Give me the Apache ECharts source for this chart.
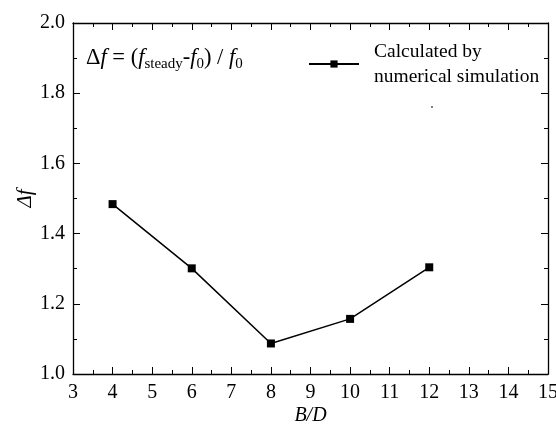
<!DOCTYPE html>
<html><head><meta charset="utf-8">
<script src="https://cdn.jsdelivr.net/npm/echarts@6/dist/echarts.min.js"></script>
<style>html,body{margin:0;padding:0;background:#fff}#c{width:556px;height:429px}</style>
</head><body><div id="c"></div>
<script>
var xValues = [4, 6, 8, 10, 12];
var yValues = [1.484, 1.301, 1.087, 1.157, 1.304];
var seriesName = 'Calculated by\nnumerical simulation';
var FONT = '"Liberation Serif", "Times New Roman", serif';

var chart = echarts.init(document.getElementById('c'));
var axisLine = {show: true, lineStyle: {color: '#000', width: 1.3}};
var tick = {show: true, inside: true, length: 7, lineStyle: {color: '#000', width: 1}};
var minor = {show: true, splitNumber: 2, length: 4, lineStyle: {color: '#000', width: 1}};
var label = {color: '#000', fontFamily: FONT, fontSize: 20};
chart.setOption({
  animation: false,
  backgroundColor: '#fff',
  grid: {left: 73, right: 8, top: 23, bottom: 55, outerBoundsMode: 'none', containLabel: false},
  xAxis: [{
    type: 'value', min: 3, max: 15, interval: 1, position: 'bottom',
    axisLine: axisLine, axisTick: tick, minorTick: minor, splitLine: {show: false},
    axisLabel: Object.assign({margin: 9}, label),
    name: 'B/D', nameLocation: 'middle', nameGap: 32, nameMoveOverlap: false,
    nameTextStyle: {color: '#000', fontFamily: FONT, fontSize: 20, fontStyle: 'italic'}
  }, {
    type: 'value', min: 3, max: 15, interval: 1, position: 'top',
    axisLine: axisLine, axisTick: tick, minorTick: minor, splitLine: {show: false},
    axisLabel: {show: false}
  }],
  yAxis: [{
    type: 'value', min: 1.0, max: 2.0, interval: 0.2, position: 'left',
    axisLine: axisLine, axisTick: tick, minorTick: minor, splitLine: {show: false},
    axisLabel: Object.assign({margin: 8, formatter: function (v) { return v.toFixed(1); }}, label),
    name: 'Δf', nameLocation: 'middle', nameGap: 37, nameRotate: 90, nameMoveOverlap: false,
    nameTextStyle: {color: '#000', fontFamily: FONT, fontSize: 21, fontStyle: 'italic'}
  }, {
    type: 'value', min: 1.0, max: 2.0, interval: 0.2, position: 'right',
    axisLine: axisLine, axisTick: tick, minorTick: minor, splitLine: {show: false},
    axisLabel: {show: false}
  }],
  legend: {
    left: 303, top: 34, itemWidth: 50, itemHeight: 9, itemGap: 0,
    textStyle: {color: '#000', fontFamily: FONT, fontSize: 19.5, lineHeight: 25, padding: [0, 0, 0, 10]},
    data: [seriesName]
  },
  graphic: [{
    type: 'text', left: 86, top: 47,
    style: {
      rich: {
        n: {fontFamily: FONT, fontSize: 22.5, fill: '#000'},
        i: {fontFamily: FONT, fontSize: 22.5, fontStyle: 'italic', fill: '#000'},
        s: {fontFamily: FONT, fontSize: 15, fill: '#000', padding: [12, 0, 0, 0]}
      },
      text: '{n|Δ}{i|f}{n| = (}{i|f}{s|steady}{i|-f}{s|0}{n|) / }{i|f}{s|0}'
    }
  }, {
    type: 'circle', shape: {cx: 432, cy: 107, r: 0.9}, style: {fill: '#444'}
  }],
  series: [{
    name: seriesName, type: 'line', data: xValues.map(function (x, i) { return [x, yValues[i]]; }),
    symbol: 'rect', symbolSize: 8, color: '#000',
    lineStyle: {color: '#000', width: 1.5},
    itemStyle: {color: '#000'}
  }]
});
</script></body></html>
